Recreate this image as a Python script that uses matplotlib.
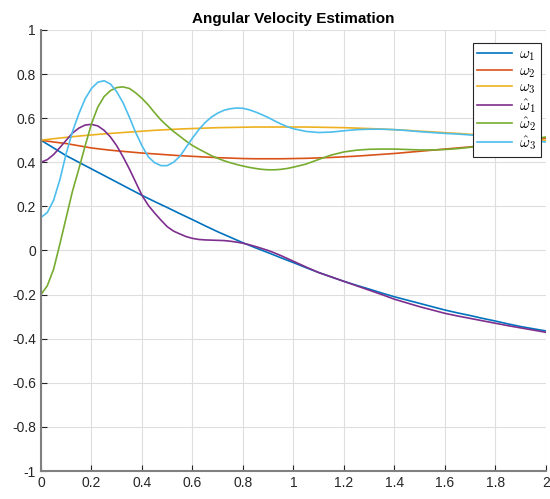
import numpy as np
import matplotlib
matplotlib.use("Agg")
import matplotlib.pyplot as plt

plt.rcParams['font.family'] = ['Liberation Sans', 'DejaVu Sans']
plt.rcParams['mathtext.fontset'] = 'cm'

# true states, sampled every 0.05
t = np.linspace(0, 2, 41)
# estimates, sampled every 0.025 up to 1, then every 0.05
t_hat = np.concatenate([np.linspace(0, 1, 41), np.linspace(1.05, 2, 20)])

w1 = [0.5, 0.465, 0.43, 0.4, 0.37, 0.34, 0.31, 0.28, 0.25, 0.222,
      0.195, 0.167, 0.14, 0.112, 0.085, 0.06, 0.035, 0.012, -0.01, -0.033,
      -0.055, -0.078, -0.1, -0.12, -0.14, -0.158, -0.175, -0.193, -0.21, -0.225,
      -0.24, -0.255, -0.27, -0.283, -0.295, -0.308, -0.32, -0.333, -0.345, -0.355,
      -0.365]
w2 = [0.5, 0.492, 0.485, 0.475, 0.465, 0.458, 0.452, 0.447, 0.442, 0.438,
      0.434, 0.43, 0.427, 0.424, 0.421, 0.419, 0.417, 0.416, 0.416, 0.416,
      0.417, 0.418, 0.42, 0.422, 0.425, 0.428, 0.432, 0.436, 0.44, 0.445,
      0.45, 0.455, 0.46, 0.465, 0.47, 0.476, 0.482, 0.488, 0.495, 0.502,
      0.51]
w3 = [0.5, 0.507, 0.513, 0.519, 0.524, 0.529, 0.533, 0.537, 0.541, 0.545,
      0.548, 0.551, 0.553, 0.555, 0.557, 0.558, 0.559, 0.56, 0.56, 0.56,
      0.56, 0.56, 0.559, 0.558, 0.557, 0.555, 0.553, 0.551, 0.548, 0.545,
      0.541, 0.538, 0.534, 0.531, 0.527, 0.523, 0.518, 0.514, 0.509, 0.505,
      0.5]

w1_hat = [0.4, 0.412, 0.435, 0.467, 0.5, 0.533, 0.555, 0.569, 0.572, 0.565,
          0.545, 0.515, 0.475, 0.425, 0.37, 0.31, 0.25, 0.205, 0.17, 0.138,
          0.108, 0.088, 0.075, 0.063, 0.055, 0.05, 0.048, 0.047, 0.046, 0.045,
          0.042, 0.038, 0.033, 0.026, 0.018, 0.009, 0.0, -0.011, -0.023, -0.036,
          -0.049,
          -0.075, -0.1, -0.12, -0.14, -0.16, -0.18, -0.2, -0.221, -0.238, -0.255,
          -0.27, -0.285, -0.297, -0.308, -0.319, -0.33, -0.341, -0.351, -0.361, -0.371]
w2_hat = [-0.2, -0.16, -0.085, 0.03, 0.15, 0.27, 0.37, 0.475, 0.575, 0.65,
          0.698, 0.725, 0.739, 0.742, 0.735, 0.715, 0.69, 0.66, 0.625, 0.592,
          0.565, 0.54, 0.518, 0.496, 0.476, 0.46, 0.445, 0.43, 0.418, 0.407,
          0.398, 0.39, 0.383, 0.377, 0.372, 0.368, 0.366, 0.366, 0.368, 0.372,
          0.378,
          0.392, 0.413, 0.433, 0.447, 0.455, 0.459, 0.46, 0.46, 0.458, 0.456,
          0.456, 0.458, 0.462, 0.468, 0.475, 0.483, 0.49, 0.498, 0.506, 0.515]
w3_hat = [0.15, 0.172, 0.228, 0.322, 0.44, 0.54, 0.62, 0.688, 0.735, 0.763,
          0.77, 0.755, 0.72, 0.67, 0.605, 0.535, 0.475, 0.425, 0.398, 0.385,
          0.385, 0.4, 0.427, 0.468, 0.51, 0.548, 0.58, 0.605, 0.623, 0.636,
          0.643, 0.646, 0.645, 0.638, 0.628, 0.616, 0.603, 0.588, 0.574, 0.562,
          0.552,
          0.54, 0.535, 0.537, 0.543, 0.548, 0.55, 0.55, 0.548, 0.544, 0.539,
          0.535, 0.531, 0.528, 0.524, 0.52, 0.515, 0.51, 0.504, 0.498, 0.492]

series = [(t, w1), (t, w2), (t, w3), (t_hat, w1_hat), (t_hat, w2_hat), (t_hat, w3_hat)]
labels = [r'$\omega_1$', r'$\omega_2$', r'$\omega_3$',
          r'$\hat{\omega}_1$', r'$\hat{\omega}_2$', r'$\hat{\omega}_3$']
colors = ['#0072BD', '#D95319', '#EDB120', '#7E2F8E', '#77AC30', '#4DBEEE']

fig = plt.figure(figsize=(5.5, 4.99), dpi=100)
ax = fig.add_axes([0.0745, 0.0561, 0.9182, 0.8838])

for (x, y), lab, c in zip(series, labels, colors):
    ax.plot(x, y, color=c, lw=1.2, label=lab)

ax.set_xlim(0, 2)
ax.set_ylim(-1, 1)
ax.set_xticks(np.arange(0, 2.01, 0.2))
ax.set_yticks(np.arange(-1, 1.01, 0.2))
ax.set_xticklabels(['0', '0.2', '0.4', '0.6', '0.8', '1', '1.2', '1.4', '1.6', '1.8', '2'])
ax.set_yticklabels(['-1', '-0.8', '-0.6', '-0.4', '-0.2', '0', '0.2', '0.4', '0.6', '0.8', '1'])
ax.grid(True, color='#dedede', lw=0.8)
ax.set_axisbelow(True)
ax.tick_params(direction='in', length=4, labelsize=10, colors='#262626', width=0.8)
ax.spines['left'].set_color('#808080')
ax.spines['left'].set_linewidth(1.5)
ax.spines['bottom'].set_color('#808080')
ax.spines['bottom'].set_linewidth(1.5)
ax.spines['top'].set_visible(False)
ax.spines['right'].set_visible(False)

ax.set_title('Angular Velocity Estimation', fontsize=11, fontweight='bold', pad=5)

leg = ax.legend(loc='upper right', bbox_to_anchor=(0.99, 0.9705), borderaxespad=0,
                fontsize=11, frameon=True, fancybox=False, edgecolor='#262626',
                handlelength=2.3, labelspacing=0.05, borderpad=0.3,
                handletextpad=0.45, framealpha=1)
leg.get_frame().set_linewidth(0.8)

fig.savefig('out.png', dpi=100)
